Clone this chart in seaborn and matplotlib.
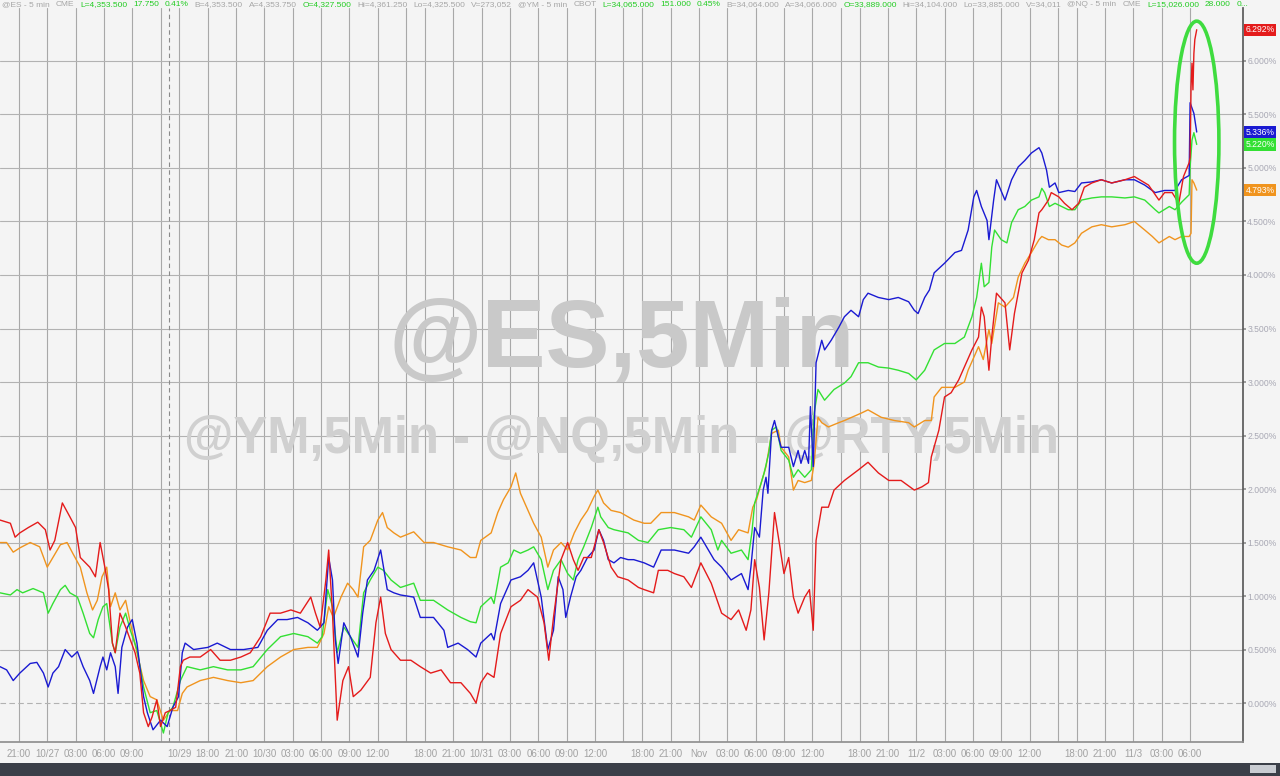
import pandas as pd
import matplotlib.pyplot as plt
import seaborn as sns
from matplotlib.patches import Ellipse, Rectangle

# -----------------------------
# Data: % change, x = trading hours since 10/26 19:00 (session gaps removed)
# -----------------------------
rty_hours = [0.0, 1.1, 1.6, 2.1, 3.0, 4.0, 4.8, 5.3, 5.8, 6.6,
             7.4, 8.0, 8.5, 9.5, 10.1, 10.6, 11.1, 11.5, 11.9, 12.2,
             12.7, 13.3, 13.8, 14.3, 14.8, 15.2, 15.7, 16.1, 16.6, 17.0,
             17.5, 18.0, 18.6, 19.1, 19.4, 20.1, 21.2, 22.3, 23.3, 24.4,
             25.5, 26.5, 27.6, 28.6, 29.7, 30.8, 31.8, 32.9, 33.4, 33.9,
             34.5, 34.8, 35.2, 35.7, 36.3, 36.9, 37.4, 38.2, 39.2, 39.8,
             40.3, 40.8, 41.4, 42.4, 43.5, 44.5, 45.6, 46.7, 47.7, 48.8,
             49.8, 50.4, 50.9, 51.6, 52.3, 53.0, 54.1, 55.1, 55.9, 56.9,
             57.6, 58.1, 58.6, 59.4, 60.1, 60.7, 61.2, 61.8, 62.6, 63.4,
             63.9, 64.7, 65.4, 66.5, 67.6, 68.2, 69.2, 69.7, 70.7, 71.4,
             72.4, 73.2, 74.2, 75.3, 76.4, 77.4, 78.2, 79.0, 79.5, 79.9,
             80.4, 80.9, 81.4, 82.0, 82.5, 83.0, 83.5, 84.0, 84.5, 85.2,
             85.7, 86.1, 86.4, 87.0, 87.7, 88.3, 89.4, 90.9, 91.9, 93.0,
             94.1, 95.4, 96.8, 97.6, 98.3, 98.6, 99.4, 100.0, 100.7, 101.5,
             102.9, 103.6, 103.9, 104.2, 104.7, 105.0, 105.5, 106.4, 106.9, 107.4,
             108.2, 108.9, 109.5, 110.0, 110.3, 111.0, 111.3, 112.1, 112.7, 113.5,
             114.2, 114.8, 115.6, 116.6, 117.7, 119.1, 120.1, 121.6, 122.7, 123.3,
             124.1, 124.8, 125.3, 125.9, 126.0, 126.1, 126.2, 126.3, 126.4, 126.5, 126.7]
rty_pct = [1.71, 1.68, 1.55, 1.59, 1.64, 1.69, 1.62, 1.43, 1.52, 1.87,
           1.74, 1.64, 1.36, 1.27, 1.18, 1.50, 1.27, 1.06, 0.56, 0.47,
           0.84, 0.71, 0.59, 0.47, 0.28, -0.09, -0.22, -0.13, 0.03, -0.22,
           -0.09, -0.07, -0.04, 0.34, 0.40, 0.43, 0.43, 0.50, 0.40, 0.40,
           0.43, 0.47, 0.62, 0.84, 0.84, 0.87, 0.84, 0.99, 0.84, 0.71,
           1.15, 1.43, 0.84, -0.16, 0.21, 0.34, 0.06, 0.12, 0.24, 0.75,
           0.99, 0.65, 0.50, 0.40, 0.40, 0.34, 0.28, 0.31, 0.19, 0.19,
           0.09, 0.00, 0.19, 0.28, 0.24, 0.65, 0.90, 0.96, 1.06, 0.99,
           0.75, 0.40, 0.80, 1.34, 1.50, 1.34, 1.24, 1.36, 1.36, 1.62,
           1.50, 1.27, 1.18, 1.15, 1.08, 1.06, 1.03, 1.24, 1.24, 1.21,
           1.18, 1.08, 1.31, 1.12, 0.84, 0.78, 0.87, 0.68, 0.87, 1.34,
           1.08, 0.59, 1.03, 1.78, 1.50, 1.21, 1.36, 0.99, 0.84, 0.99,
           1.06, 0.68, 1.52, 1.83, 1.83, 1.99, 2.08, 2.18, 2.25, 2.15,
           2.08, 2.08, 1.99, 2.02, 2.06, 2.30, 2.55, 2.86, 2.90, 3.02,
           3.30, 3.42, 3.70, 3.61, 3.11, 3.42, 3.83, 3.74, 3.30, 3.64,
           4.02, 4.14, 4.33, 4.58, 4.61, 4.70, 4.77, 4.73, 4.67, 4.61,
           4.67, 4.82, 4.86, 4.89, 4.86, 4.89, 4.92, 4.84, 4.70, 4.77,
           4.77, 4.67, 4.92, 5.05, 5.10, 5.76, 5.98, 5.73, 6.07, 6.20, 6.292]

nq_hours = [0.0, 0.7, 1.4, 2.1, 3.2, 3.9, 4.6, 5.1, 5.6, 6.2,
            6.9, 7.6, 8.2, 8.8, 9.5, 9.9, 10.6, 10.9, 11.3, 11.7,
            12.2, 12.5, 12.9, 13.5, 14.0, 14.5, 15.2, 15.6, 16.2, 17.0,
            17.7, 18.3, 18.9, 19.3, 19.6, 20.5, 22.0, 23.0, 24.4, 25.8,
            27.3, 28.3, 29.4, 30.4, 31.5, 32.6, 33.6, 34.3, 34.8, 35.2,
            35.5, 35.8, 36.4, 37.1, 37.9, 38.4, 38.9, 39.6, 40.3, 41.0,
            41.7, 42.4, 43.8, 44.5, 45.9, 47.0, 47.4, 48.5, 49.5, 50.4,
            50.9, 52.0, 52.3, 53.0, 54.1, 55.1, 55.9, 56.5, 57.3, 58.0,
            58.6, 59.1, 59.6, 59.9, 60.4, 61.0, 61.5, 62.2, 62.9, 63.4,
            63.9, 64.4, 65.0, 65.7, 66.5, 67.1, 68.2, 69.2, 70.0, 71.4,
            72.9, 73.5, 74.2, 75.0, 75.6, 76.4, 77.4, 78.5, 79.2, 79.5,
            79.9, 80.4, 80.8, 81.1, 81.3, 81.7, 82.0, 82.4, 82.7, 83.5,
            84.0, 84.5, 84.8, 85.2, 85.6, 85.8, 86.1, 86.4, 87.0, 87.3,
            88.0, 88.8, 89.4, 90.1, 90.9, 91.4, 91.9, 93.0, 94.1, 95.1,
            96.2, 96.8, 97.2, 97.9, 98.4, 98.9, 100.0, 101.1, 101.8, 102.5,
            103.1, 103.4, 103.9, 104.5, 104.7, 105.2, 105.5, 106.4, 107.1, 107.8,
            108.5, 109.2, 110.0, 110.3, 110.8, 111.1, 111.7, 112.1, 113.1, 113.8,
            114.5, 115.6, 116.6, 117.7, 119.1, 120.1, 121.2, 122.3, 123.3, 124.4,
            125.1, 125.9, 126.0, 126.4, 126.5, 126.7]
nq_pct = [0.34, 0.31, 0.21, 0.28, 0.37, 0.38, 0.28, 0.15, 0.28, 0.34,
          0.50, 0.43, 0.48, 0.34, 0.21, 0.09, 0.34, 0.43, 0.31, 0.47,
          0.34, 0.09, 0.52, 0.71, 0.78, 0.56, 0.06, -0.09, -0.25, -0.16,
          -0.22, -0.04, 0.06, 0.47, 0.56, 0.50, 0.52, 0.56, 0.50, 0.50,
          0.52, 0.68, 0.78, 0.78, 0.80, 0.75, 0.68, 0.75, 1.36, 1.15,
          0.59, 0.37, 0.75, 0.62, 0.43, 0.84, 1.15, 1.24, 1.43, 1.06,
          1.03, 1.01, 0.99, 0.80, 0.80, 0.68, 0.52, 0.56, 0.50, 0.43,
          0.56, 0.65, 0.59, 0.93, 1.15, 1.18, 1.24, 1.31, 0.99, 0.50,
          0.68, 1.18, 1.06, 0.80, 0.99, 1.18, 1.24, 1.36, 1.43, 1.62,
          1.52, 1.34, 1.31, 1.36, 1.34, 1.34, 1.31, 1.27, 1.43, 1.43,
          1.40, 1.46, 1.55, 1.43, 1.34, 1.27, 1.15, 1.21, 1.06, 1.27,
          1.64, 1.55, 1.99, 2.11, 1.96, 2.55, 2.64, 2.49, 2.39, 2.39,
          2.21, 2.36, 2.24, 2.36, 2.24, 2.77, 2.21, 3.18, 3.39, 3.30,
          3.39, 3.51, 3.61, 3.67, 3.61, 3.77, 3.83, 3.79, 3.77, 3.79,
          3.75, 3.67, 3.64, 3.79, 3.86, 4.02, 4.11, 4.21, 4.23, 4.42,
          4.73, 4.79, 4.64, 4.51, 4.33, 4.70, 4.89, 4.70, 4.89, 5.01,
          5.07, 5.14, 5.19, 5.14, 4.98, 4.82, 4.86, 4.77, 4.79, 4.78,
          4.86, 4.87, 4.89, 4.86, 4.89, 4.89, 4.84, 4.77, 4.79, 4.79,
          4.89, 4.93, 5.61, 5.51, 5.45, 5.336]

es_hours = [0.0, 1.1, 1.8, 2.4, 3.5, 4.6, 5.1, 5.6, 6.4, 6.9,
            7.4, 8.2, 8.8, 9.5, 9.9, 10.4, 10.9, 11.3, 11.9, 12.2,
            12.7, 13.3, 13.8, 14.5, 15.2, 15.9, 16.6, 17.3, 17.8, 18.3,
            19.1, 19.8, 21.2, 22.6, 24.1, 25.5, 26.8, 28.3, 29.7, 31.1,
            32.6, 33.6, 34.1, 34.7, 35.2, 35.7, 36.4, 37.1, 37.9, 38.5,
            39.2, 40.0, 40.6, 41.4, 42.4, 43.8, 44.5, 45.9, 47.4, 48.8,
            49.8, 50.4, 50.9, 52.0, 52.3, 53.0, 53.8, 54.4, 55.1, 55.9,
            56.5, 57.3, 58.0, 58.6, 59.4, 60.1, 60.7, 61.2, 61.8, 62.6,
            63.3, 63.6, 64.4, 65.0, 66.5, 67.6, 68.6, 69.7, 71.0, 72.4,
            73.2, 74.2, 75.3, 76.0, 76.4, 77.4, 78.5, 79.2, 79.6, 79.9,
            80.6, 80.9, 81.4, 81.7, 82.2, 82.7, 83.5, 84.0, 84.5, 85.2,
            85.9, 86.2, 86.6, 87.3, 88.3, 89.4, 90.1, 90.9, 91.9, 93.0,
            94.1, 95.1, 96.2, 97.0, 97.9, 98.9, 100.0, 101.1, 102.1, 102.9,
            103.4, 103.9, 104.2, 104.7, 105.0, 105.3, 106.0, 106.6, 107.1, 107.8,
            108.5, 109.2, 110.0, 110.3, 110.6, 111.1, 111.7, 112.4, 113.1, 113.8,
            114.5, 115.6, 116.6, 117.7, 119.1, 120.1, 121.2, 122.3, 122.7, 123.8,
            124.4, 125.1, 125.9, 126.0, 126.2, 126.4, 126.7]
es_pct = [1.03, 1.01, 1.06, 1.03, 1.07, 1.03, 0.84, 0.93, 1.06, 1.10,
          1.03, 0.99, 0.84, 0.65, 0.61, 0.78, 0.90, 0.93, 0.56, 0.47,
          0.71, 0.84, 0.68, 0.50, 0.15, -0.09, -0.07, -0.28, -0.09, -0.04,
          0.21, 0.34, 0.31, 0.34, 0.31, 0.31, 0.34, 0.50, 0.62, 0.65,
          0.62, 0.56, 0.62, 1.06, 0.90, 0.47, 0.71, 0.62, 0.52, 1.03,
          1.15, 1.27, 1.24, 1.15, 1.08, 1.12, 0.96, 0.96, 0.87, 0.80,
          0.76, 0.75, 0.90, 0.99, 0.93, 1.27, 1.31, 1.43, 1.40, 1.43,
          1.46, 1.34, 1.06, 1.24, 1.34, 1.21, 1.15, 1.34, 1.46, 1.64,
          1.83, 1.74, 1.64, 1.62, 1.59, 1.52, 1.50, 1.62, 1.64, 1.62,
          1.55, 1.74, 1.62, 1.43, 1.52, 1.40, 1.43, 1.34, 1.59, 1.87,
          2.06, 2.15, 2.34, 2.55, 2.58, 2.36, 2.27, 2.11, 2.18, 2.11,
          2.18, 2.71, 2.93, 2.83, 2.93, 2.99, 3.05, 3.18, 3.18, 3.14,
          3.13, 3.11, 3.08, 3.02, 3.11, 3.30, 3.36, 3.36, 3.42, 3.61,
          3.79, 4.11, 3.89, 3.93, 4.26, 4.42, 4.33, 4.30, 4.49, 4.61,
          4.64, 4.70, 4.73, 4.81, 4.77, 4.64, 4.67, 4.64, 4.61, 4.61,
          4.70, 4.72, 4.73, 4.73, 4.72, 4.73, 4.70, 4.61, 4.58, 4.64,
          4.61, 4.68, 4.75, 5.01, 5.26, 5.33, 5.220]

ym_hours = [0.0, 0.7, 1.4, 2.1, 3.2, 4.2, 5.0, 5.6, 6.4, 7.1,
            7.7, 8.5, 9.2, 9.8, 10.3, 10.8, 11.3, 11.7, 12.2, 12.7,
            13.3, 13.8, 14.5, 15.2, 15.9, 16.6, 17.3, 18.0, 18.8, 19.3,
            19.8, 21.2, 22.6, 24.1, 25.5, 26.8, 28.3, 29.7, 31.1, 32.6,
            33.6, 34.3, 34.8, 35.3, 36.1, 36.8, 37.4, 37.9, 38.5, 39.2,
            40.0, 40.5, 41.0, 41.7, 42.4, 43.8, 44.9, 45.9, 47.4, 48.8,
            49.8, 50.4, 50.9, 52.0, 52.7, 53.3, 54.1, 54.6, 55.1, 55.9,
            56.5, 57.3, 58.0, 58.6, 59.4, 60.1, 60.8, 61.5, 62.2, 62.9,
            63.3, 63.9, 64.7, 65.7, 67.1, 68.2, 68.9, 70.0, 71.4, 72.9,
            73.5, 74.2, 75.3, 76.4, 77.4, 78.2, 79.2, 79.7, 80.1, 80.6,
            81.1, 81.7, 82.4, 82.7, 83.5, 84.0, 84.5, 85.2, 85.9, 86.2,
            86.6, 87.0, 87.7, 88.8, 89.4, 91.2, 91.9, 93.3, 94.7, 96.2,
            96.8, 97.9, 98.6, 98.9, 99.7, 101.1, 102.1, 102.5, 103.6, 104.1,
            104.7, 105.0, 105.7, 106.4, 107.3, 107.8, 108.5, 109.2, 110.0, 110.3,
            111.0, 111.7, 112.4, 113.1, 113.8, 114.5, 115.6, 116.6, 117.7, 119.1,
            120.1, 121.2, 122.0, 122.7, 123.8, 124.4, 125.1, 125.9, 126.1, 126.2, 126.4, 126.7]
ym_pct = [1.50, 1.50, 1.41, 1.45, 1.50, 1.46, 1.27, 1.36, 1.48, 1.50,
          1.40, 1.27, 1.03, 0.87, 0.96, 1.18, 1.27, 0.90, 1.03, 0.87,
          0.96, 0.75, 0.47, 0.21, 0.06, 0.03, -0.16, -0.07, -0.07, 0.09,
          0.15, 0.21, 0.24, 0.21, 0.19, 0.21, 0.34, 0.43, 0.50, 0.52,
          0.52, 0.65, 0.90, 0.80, 0.99, 1.12, 1.06, 0.99, 1.46, 1.52,
          1.71, 1.78, 1.64, 1.59, 1.55, 1.60, 1.50, 1.50, 1.46, 1.43,
          1.36, 1.36, 1.52, 1.59, 1.78, 1.90, 2.02, 2.15, 1.96, 1.80,
          1.68, 1.55, 1.27, 1.43, 1.50, 1.43, 1.59, 1.71, 1.80, 1.93,
          1.99, 1.87, 1.80, 1.78, 1.71, 1.68, 1.68, 1.78, 1.78, 1.74,
          1.71, 1.85, 1.74, 1.68, 1.52, 1.62, 1.59, 1.83, 1.90, 2.06,
          2.21, 2.52, 2.55, 2.39, 2.30, 1.99, 2.08, 2.06, 2.08, 2.24,
          2.67, 2.62, 2.58, 2.62, 2.64, 2.71, 2.74, 2.67, 2.64, 2.62,
          2.58, 2.64, 2.64, 2.86, 2.95, 2.95, 3.00, 3.11, 3.33, 3.21,
          3.49, 3.36, 3.74, 3.70, 3.79, 3.98, 4.11, 4.21, 4.33, 4.36,
          4.33, 4.33, 4.28, 4.26, 4.30, 4.39, 4.45, 4.47, 4.45, 4.47,
          4.50, 4.42, 4.36, 4.30, 4.36, 4.33, 4.36, 4.36, 4.39, 4.89, 4.86, 4.793]

symbols = ["YM", "ES", "NQ", "RTY"]          # draw order, red on top
colors = {"RTY": "#e41b1b", "NQ": "#1a1ad2", "ES": "#33e033", "YM": "#f0941e"}

# x axis: trading-hour positions of the labelled ticks
tick_hours = [2, 5, 8, 11, 14, 19, 22, 25, 28, 31, 34, 37, 40, 45, 48, 51, 54, 57, 60, 63,
              68, 71, 74, 77, 80, 83, 86, 91, 94, 97, 100, 103, 106, 109, 114, 117, 120, 123, 126]
tick_labels = ["21:00", "10/27", "03:00", "06:00", "09:00", "10/29", "18:00", "21:00", "10/30",
               "03:00", "06:00", "09:00", "12:00", "18:00", "21:00", "10/31", "03:00", "06:00",
               "09:00", "12:00", "18:00", "21:00", "Nov", "03:00", "06:00", "09:00", "12:00",
               "18:00", "21:00", "11/2", "03:00", "06:00", "09:00", "12:00", "18:00", "21:00",
               "11/3", "03:00", "06:00"]
minor_hours = [17, 43, 66, 89, 112]
weekend_break = 17.9

header = [("@ES - 5 min", 0), ("CME", 0), ("L=4,353.500", 1), ("17.750", 1), ("0.41%", 1),
          ("B=4,353.500", 0), ("A=4,353.750", 0), ("O=4,327.500", 1), ("Hi=4,361.250", 0),
          ("Lo=4,325.500", 0), ("V=273,052", 0),
          ("@YM - 5 min", 0), ("CBOT", 0), ("L=34,065.000", 1), ("151.000", 1), ("0.45%", 1),
          ("B=34,064.000", 0), ("A=34,066.000", 0), ("O=33,889.000", 1), ("Hi=34,104.000", 0),
          ("Lo=33,885.000", 0), ("V=34,011", 0),
          ("@NQ - 5 min", 0), ("CME", 0), ("L=15,026.000", 1), ("28.000", 1), ("0...", 1)]

# -----------------------------
# Build long table
# -----------------------------
series = {"RTY": (rty_hours, rty_pct), "NQ": (nq_hours, nq_pct),
          "ES": (es_hours, es_pct), "YM": (ym_hours, ym_pct)}
df = pd.concat([pd.DataFrame({"hour": h, "pct": v, "symbol": s})
                for s, (h, v) in series.items()], ignore_index=True)

# -----------------------------
# Plot
# -----------------------------
sns.set_theme(style="white")
plt.rcParams['font.family'] = ['Liberation Sans', 'DejaVu Sans']

W, H = 1280, 776
bg = "#f4f4f4"
fig = plt.figure(figsize=(12.8, 7.76), dpi=100, facecolor=bg)
ax = fig.add_axes([0, 1 - 742 / H, 1243 / W, (742 - 8) / H])
ax.set_facecolor(bg)

sns.lineplot(data=df, x="hour", y="pct", hue="symbol", hue_order=symbols,
             palette=colors, estimator=None, sort=False, legend=False,
             linewidth=1.0, ax=ax, zorder=3)

ax.set_xlim(0, 131.6)
ax.set_ylim(-0.364, 6.495)

# watermark
ax.text(0.5, 0.5456, "@ES,5Min", transform=ax.transAxes, ha="center", va="center",
        fontsize=69, fontweight="bold", color="#c9c9c9", zorder=1)
ax.text(0.5, 0.4121, "@YM,5Min - @NQ,5Min - @RTY,5Min", transform=ax.transAxes,
        ha="center", va="center", fontsize=36.5, fontweight="bold", color="#d0d0d0", zorder=1)

# grid / axes
ax.set_xticks(tick_hours)
ax.set_xticklabels(tick_labels)
ax.set_xticks(minor_hours, minor=True)
ax.set_yticks([i * 0.5 for i in range(13)])
ax.set_yticklabels([f"{i * 0.5:.3f}%" for i in range(13)])
ax.yaxis.tick_right()
ax.set_xlabel("")
ax.set_ylabel("")
ax.grid(True, which="both", axis="x", color="#a8a8a8", linewidth=0.8)
ax.grid(True, axis="y", color="#b2b2b2", linewidth=0.8)
ax.yaxis.get_gridlines()[0].set_linestyle((0, (5, 3)))
ax.set_axisbelow(True)
ax.axvline(weekend_break, color="#8a8a8a", linewidth=0.8, linestyle=(0, (4, 3)), zorder=1)

ax.tick_params(axis="x", which="both", length=3, color="#909090", labelsize=7,
               labelcolor="#a2a2a2", pad=2)
ax.tick_params(axis="y", length=2.5, color="#909090", labelsize=6.2, labelcolor="#a8a8b4", pad=0.5)
for side in ["top", "left"]:
    ax.spines[side].set_visible(False)
ax.spines["right"].set_color("#5a5a5a")
ax.spines["bottom"].set_color("#909090")

# last value tags
for s in ["RTY", "NQ", "ES", "YM"]:
    last = series[s][1][-1]
    ax.annotate(f"{last:.3f}%", xy=(1, last), xycoords=ax.get_yaxis_transform(),
                xytext=(1.8, 0), textcoords="offset points", ha="left", va="center",
                fontsize=6.2, color="white", annotation_clip=False,
                bbox=dict(boxstyle="square,pad=0.2", fc=colors[s], ec="none"), zorder=6)

# highlight ellipse around the final spike
ends = [series[s][1][-1] for s in symbols]
pre = [series[s][1][-6] for s in symbols]
top, bottom = max(ends) + 0.08, min(pre) - 0.25
ax.add_patch(Ellipse((rty_hours[-1], (top + bottom) / 2), 4.7, top - bottom,
                     fill=False, edgecolor="#3fdc3f", linewidth=2.6, zorder=7))

# header line
renderer = fig.canvas.get_renderer()
widths = []
for txt, _ in header:
    t = fig.text(0, 0, txt, fontsize=10)
    widths.append(t.get_window_extent(renderer).width)
    t.remove()
gap = 6
size = 10 * (1246 - gap * (len(header) - 1)) / sum(widths)
x = 2
for (txt, hi), w in zip(header, widths):
    fig.text(x / W, 1 - 5 / H, txt, fontsize=size, va="center", ha="left",
             color="#22cc22" if hi else "#a6a6a6")
    x += w * size / 10 + gap

# bottom scroll strip
fig.patches.append(Rectangle((0, 0), 1, 13 / H, transform=fig.transFigure,
                             facecolor="#3b3f48", edgecolor="none"))
fig.patches.append(Rectangle((1250 / W, 3 / H), 26 / W, 8 / H, transform=fig.transFigure,
                             facecolor="#c9ccd2", edgecolor="none"))

plt.savefig("out.png", dpi=100, facecolor=bg)
